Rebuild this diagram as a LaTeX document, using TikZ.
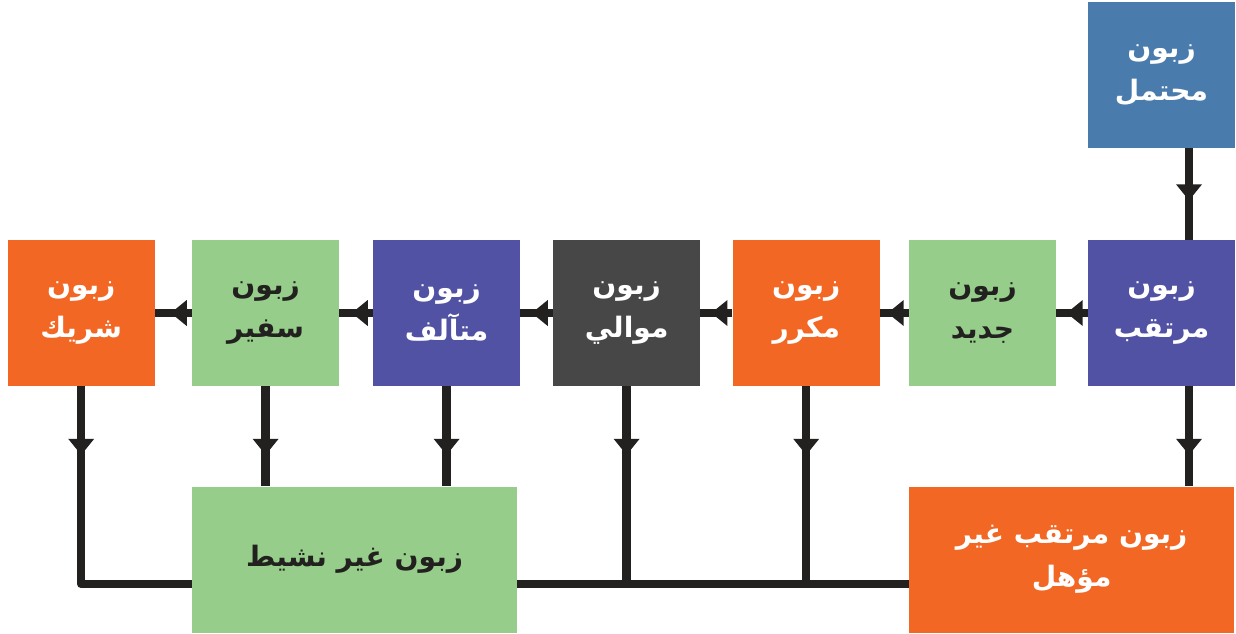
\documentclass[tikz,border=0pt]{standalone}
\usepackage{fontspec}
\usetikzlibrary{arrows.meta,decorations.markings,calc}
\newfontfamily\arabicfont[Script=Arabic]{DejaVu Sans}
\TeXXeTstate=1
\newcommand\rtl[1]{\beginR #1\endR}

\definecolor{cBlue}{RGB}{74,123,173}
\definecolor{cIndigo}{RGB}{81,82,163}
\definecolor{cOrange}{RGB}{242,103,35}
\definecolor{cGreen}{RGB}{150,205,138}
\definecolor{cGray}{RGB}{71,71,71}
\definecolor{cLine}{RGB}{34,33,31}
\definecolor{cDark}{RGB}{34,33,31}

\tikzset{
  stage/.style={rectangle, inner sep=0pt, minimum width=2.94cm, minimum height=2.92cm,
    align=center, font=\arabicfont\bfseries\fontsize{16}{24.5}\selectfont},
  wide/.style={stage, minimum width=6.5cm},
  light/.style={fill=cGreen, text=cDark},
  flow/.style={draw=cLine, line width=0.17cm, line join=round},
  tipat/.style={postaction={decorate}, decoration={markings,
    mark=at position #1 with {\arrow{Triangle[width=0.52cm,length=0.32cm,line width=0pt]}}}},
}

\begin{document}
\begin{tikzpicture}[x=0.02cm, y=-0.02cm]
\useasboundingbox (0,0) rectangle (1236,633);

% customer stages
\node[stage, fill=cBlue, text=white] (mohtamal) at (1161.5,75) {\rtl{زبون}\\\rtl{محتمل}};
\node[stage, fill=cIndigo, text=white] (murtaqib) at (1161.5,313) {\rtl{زبون}\\\rtl{مرتقب}};
\node[stage, light] (jadeed) at (982.5,313) {\rtl{زبون}\\\rtl{جديد}};
\node[stage, fill=cOrange, text=white] (mukarrar) at (806.2,313) {\rtl{زبون}\\\rtl{مكرر}};
\node[stage, fill=cGray, text=white] (muwali) at (626.6,313) {\rtl{زبون}\\\rtl{موالي}};
\node[stage, fill=cIndigo, text=white] (mutalif) at (446.6,313) {\rtl{زبون}\\\rtl{متآلف}};
\node[stage, light] (safir) at (265.6,313) {\rtl{زبون}\\\rtl{سفير}};
\node[stage, fill=cOrange, text=white] (shareek) at (81.2,313) {\rtl{زبون}\\\rtl{شريك}};

% exit states
\node[wide, light] (inactive) at (354.6,559.5) {\rtl{زبون غير نشيط}};
\node[wide, fill=cOrange, text=white] (unqual) at (1071.6,559.5) {\rtl{زبون مرتقب غير}\\\rtl{مؤهل}};

\coordinate (bus) at (0,584);
\coordinate (qx) at ($(murtaqib.south)+(27.5,0)$);

% main chain
\draw[flow, tipat=1.04cm] (mohtamal.south -| qx) -- (murtaqib.north -| qx);
\draw[flow, tipat=0.42cm] (murtaqib.west) -- (jadeed.east);
\draw[flow, tipat=0.42cm] (jadeed.west) -- (mukarrar.east);
\draw[flow, tipat=0.42cm] (mukarrar.west) -- (muwali.east);
\draw[flow, tipat=0.42cm] (muwali.west) -- (mutalif.east);
\draw[flow, tipat=0.42cm] (mutalif.west) -- (safir.east);
\draw[flow, tipat=0.42cm] (safir.west) -- (shareek.east);

% drops to the exit states
\draw[flow, tipat=1.37cm] (qx) -- (unqual.north -| qx);
\draw[flow, tipat=1.37cm] (safir.south) -- (inactive.north -| safir.south);
\draw[flow, tipat=1.37cm] (mutalif.south) -- (inactive.north -| mutalif.south);
\draw[flow, tipat=1.37cm] (muwali.south) -- (muwali.south |- bus);
\draw[flow, tipat=1.37cm] (mukarrar.south) -- (mukarrar.south |- bus);
\draw[flow, tipat=1.37cm] (shareek.south) -- (shareek.south |- bus) -- (inactive.west |- bus);
\draw[flow] (inactive.east |- bus) -- (unqual.west |- bus);
\end{tikzpicture}
\end{document}
